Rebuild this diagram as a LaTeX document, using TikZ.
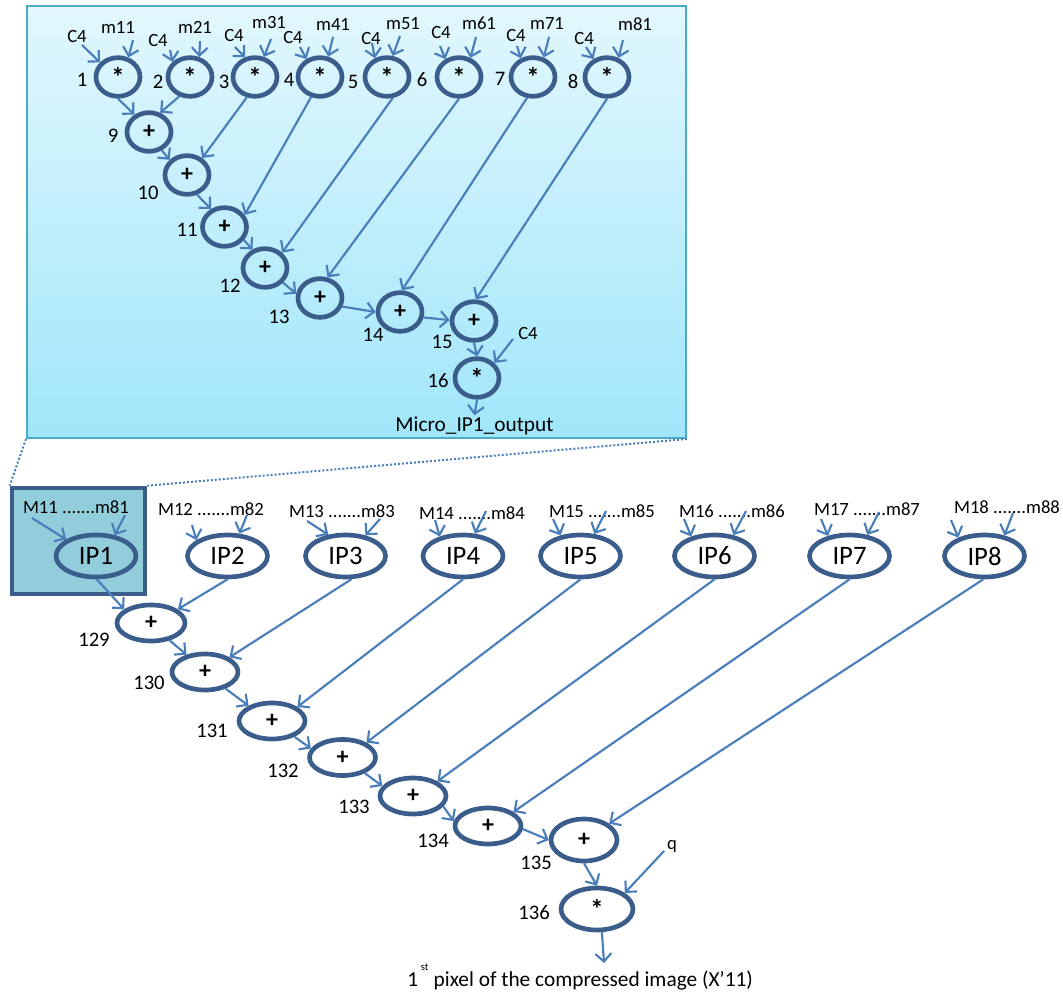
\documentclass[tikz,border=0pt]{standalone}
\usepackage{fontspec}
\setmainfont{Carlito}
\usetikzlibrary{shapes.geometric,arrows.meta}
\definecolor{dkb}{RGB}{59,93,140}
\definecolor{arb}{RGB}{74,126,187}
\definecolor{pbord}{RGB}{75,172,198}
\definecolor{ptop}{RGB}{226,247,253}
\definecolor{pbot}{RGB}{160,230,250}
\definecolor{boxfill}{RGB}{146,205,220}
\newcommand{\opmul}{\raisebox{-5pt}{\fontsize{20}{20}\selectfont\bfseries *}}
\newcommand{\opadd}[1]{\raisebox{#1}{\fontsize{18}{18}\selectfont\bfseries +}}
\begin{document}
\begin{tikzpicture}[x=0.75pt,y=-0.75pt,
  op/.style={ellipse, draw=dkb, line width=3.5pt, inner sep=0pt, minimum width=33pt, minimum height=29pt, font=\fontsize{15}{15}\selectfont},
  ad/.style={ellipse, draw=dkb, line width=3.5pt, inner sep=0pt, minimum width=49.5pt, minimum height=27pt, font=\fontsize{15}{15}\selectfont},
  ip/.style={ellipse, draw=dkb, line width=3.5pt, inner sep=0pt, minimum width=60pt, minimum height=31.5pt, font=\fontsize{20}{20}\selectfont},
  lbl/.style={inner sep=0pt, font=\fontsize{15.5}{15.5}\selectfont},
  sm/.style={inner sep=0pt, font=\fontsize{14}{14}\selectfont},
  ml/.style={inner sep=0pt, font=\fontsize{14}{14}\selectfont},
  arr/.style={draw=arb, line width=1.6pt, -{Straight Barb[length=6pt,width=12pt]}},
  dots/.style={draw=arb, line width=1.5pt, dash pattern=on 1.5pt off 1.5pt}
]
\useasboundingbox (0,0) rectangle (1063,994);

% ---------- top panel ----------
\node[draw=pbord, line width=1.5pt, top color=ptop, bottom color=pbot,
      minimum width=494.25pt, minimum height=324pt, inner sep=0pt] (panel) at (356.5,222) {};

\foreach \i/\x/\lx/\ly/\cx/\cy/\mx/\my/\csx/\csy/\msx/\msy/\ca/\ma in {
  1/118/82/80/77/37/118/27/82/45/133/40/141/62,
  2/190/158/82/158/41/195/27/170/50/200/41/139/65,
  3/255/224/82/234/36/269/23/235/47/271/39/117/66,
  4/320/289/80/293/38/333/24/300/47/333/37/127/68,
  5/387/353/82/371/39/403/24/372/43/400/36/123/75,
  6/459/422/80/441/33/479/23/440/46/476/37/127/59,
  7/533/500/79/516/36/547/23/517/46/549/37/123/61,
  8/607/573/82/584/39/635/24/586/47/623/40/127/59}{
  \node[op] (n\i) at (\x,77) {\opmul};
  \node[lbl] (l\i) at (\lx,\ly) {\i};
  \node[sm] (c\i) at (\cx,\cy) {C4};
  \node[sm] (m\i) at (\mx,\my) {m\i1};
  \coordinate (cs\i) at (\csx,\csy);
  \coordinate (ms\i) at (\msx,\msy);
  \draw[arr] (cs\i) -- (n\i.\ca);
  \draw[arr] (ms\i) -- (n\i.\ma);
}

\foreach \i/\x/\y/\lx/\ly in {9/149/132/113/136, 10/187/175/148/193, 11/224.5/227/187/230,
  12/265/268/230/286, 13/320/298/279/317, 14/400/312/373/335, 15/474/321/442/342}{
  \node[op] (n\i) at (\x,\y) {\opadd{-4pt}};
  \node[lbl] (l\i) at (\lx,\ly) {\i};
}
\node[op] (n16) at (477,378) {\opmul};
\node[lbl] (l16) at (438,381) {16};
\node[sm] (c16) at (528,334) {C4};
\coordinate (cs16) at (513,339);
\draw[arr] (cs16) -- (n16.41);

\draw[arr] (n1.-90) -- (n9.130);
\draw[arr] (n2.-119) -- (n9.60);
\draw[arr] (n9.-55) -- (n10.139);
\draw[arr] (n3.-112) -- (n10.48);
\draw[arr] (n10.-63) -- (n11.127);
\draw[arr] (n4.-114) -- (n11.31);
\draw[arr] (n11.-34) -- (n12.124);
\draw[arr] (n5.-75) -- (n12.42);
\draw[arr] (n12.-39) -- (n13.170);
\draw[arr] (n6.-90) -- (n13.70);
\draw[arr] (n13.-21) -- (n14.180);
\draw[arr] (n7.-106) -- (n14.85);
\draw[arr] (n14.-13) -- (n15.178);
\draw[arr] (n8.-90) -- (n15.85);
\draw[arr] (n15.-90) -- (n16.90);

\node[inner sep=1pt, font=\fontsize{16}{16}\selectfont] (mout) at (474.5,426) {Micro\_IP1\_output};
\draw[arr] (n16.-90) -- (mout.north);

% ---------- zoom lines and IP1 box ----------
\node[draw=dkb, line width=3.5pt, fill=boxfill, minimum width=99.75pt, minimum height=79.5pt, inner sep=0pt] (box) at (78.5,541) {};
\draw[dots] (panel.south west) -- (box.north west);
\draw[dots] (panel.south east) -- (box.north east);

% ---------- IP row ----------
\foreach \i/\x/\lx/\ly/\lsx/\lsy/\rsx/\rsy/\la/\ra in {
  1/96/76/507/32/518/125/515/151/48,
  2/227.5/211/509/192/525/247/515/153/62,
  3/345.5/342/511/307/521/380/519/129/46,
  4/463/472/513/435/520/486/511/140/62,
  5/580.5/602/511/553/519/606/511/134/58,
  6/714.5/732/511/684/519/746/511/140/48,
  7/849.5/867/509/821/519/879/512/137/50,
  8/984.5/1007/507/951/520/1013/513/145/46}{
  \node[ip] (ip\i) at (\x,556) {\raisebox{-2pt}{IP\i}};
  \node[ml] (ml\i) at (\lx,\ly) {M1\i{} .......m8\i};
  \coordinate (ls\i) at (\lsx,\lsy);
  \coordinate (rs\i) at (\rsx,\rsy);
  \draw[arr] (ls\i) -- (ip\i.\la);
  \draw[arr] (rs\i) -- (ip\i.\ra);
}

% ---------- adder chain ----------
\node[ad, minimum width=51pt] (a129) at (151,623) {\opadd{-5pt}};
\node[ad] (a130) at (205,672) {\opadd{-5pt}};
\node[ad] (a131) at (272,721) {\opadd{-5pt}};
\node[ad] (a132) at (342.5,757.5) {\opadd{-5pt}};
\node[ad] (a133) at (413,796) {\opadd{-5pt}};
\node[ad] (a134) at (488,826) {\opadd{-5pt}};
\node[ad, minimum height=31.5pt] (a135) at (584,840) {\opadd{-5pt}};
\node[ad, minimum width=54pt, minimum height=31.5pt] (a136) at (597,909) {\opmul};

\node[lbl] (t129) at (94,640) {129};
\node[lbl] (t130) at (149,683) {130};
\node[lbl] (t131) at (212,731) {131};
\node[lbl] (t132) at (283,771) {132};
\node[lbl] (t133) at (354,807) {133};
\node[lbl] (t134) at (433,841) {134};
\node[lbl] (t135) at (536,863) {135};
\node[lbl] (t136) at (534,913) {136};

\draw[arr] (ip1.-88) -- (a129.153);
\draw[arr] (ip2.-90) -- (a129.27);
\draw[arr] (ip3.-75) -- (a130.31);
\draw[arr] (ip4.-90) -- (a131.29);
\draw[arr] (ip5.-90) -- (a132.32);
\draw[arr] (ip6.-90) -- (a133.31);
\draw[arr] (ip7.-90) -- (a134.29);
\draw[arr] (ip8.-93) -- (a135.33);

\draw[arr] (a129.-43) -- (a130.137);
\draw[arr] (a130.-39) -- (a131.147);
\draw[arr] (a131.-35) -- (a132.164);
\draw[arr] (a132.-35) -- (a133.162);
\draw[arr] (a133.-19) -- (a134.172);
\draw[arr] (a134.-5) -- (a135.180);
\draw[arr] (a135.-90) -- (a136.90);

\node[sm] (q) at (672,846) {q};
\coordinate (qs) at (664,851);
\draw[arr] (qs) -- (a136.30);

\coordinate (outend) at (604,963);
\draw[arr] (a136.-78) -- (outend);
\node[anchor=base west, inner sep=0pt, font=\fontsize{16}{16}\selectfont] (cap) at (407,986)
  {1\hspace{2pt}\raisebox{12pt}{\fontsize{8}{8}\selectfont st}\hspace{4pt}pixel of the compressed image (X’11)};
\end{tikzpicture}
\end{document}
